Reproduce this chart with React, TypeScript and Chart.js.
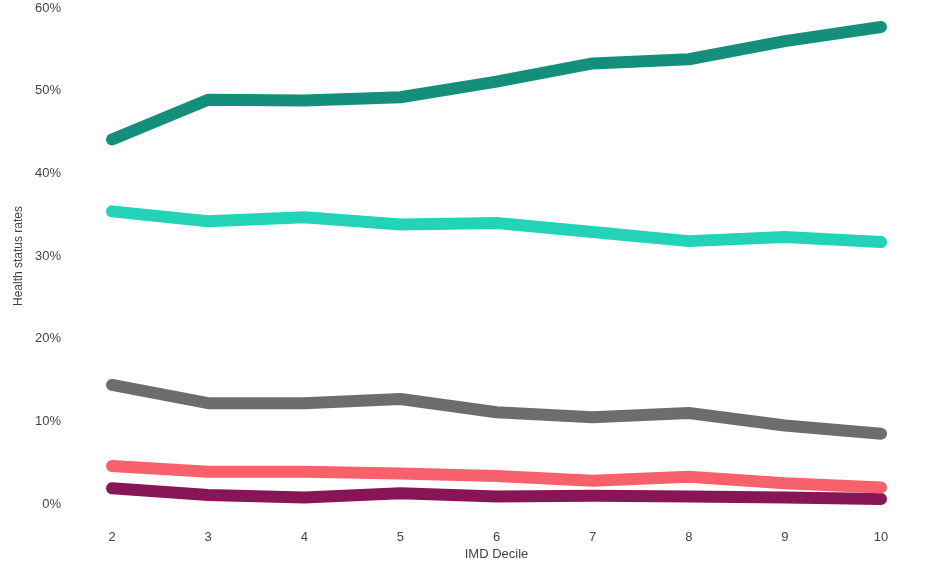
import React, { useEffect, useRef } from "react";
import { Chart, registerables } from "chart.js";

Chart.register(...registerables);

const deciles = ["2", "3", "4", "5", "6", "7", "8", "9", "10"];
const yTickValues = [0, 10, 20, 30, 40, 50, 60];

const seriesDarkGreen = [44.1, 48.9, 48.8, 49.2, 51.1, 53.3, 53.8, 56.0, 57.7];
const seriesTurquoise = [35.4, 34.2, 34.7, 33.8, 34.0, 32.9, 31.8, 32.3, 31.7];
const seriesGrey = [14.4, 12.2, 12.2, 12.7, 11.1, 10.5, 11.0, 9.5, 8.5];
const seriesCoral = [4.6, 3.9, 3.9, 3.7, 3.4, 2.8, 3.3, 2.5, 2.0];
const seriesPurple = [1.9, 1.1, 0.8, 1.3, 0.9, 1.0, 0.9, 0.8, 0.6];

const colours = ["#148f7c", "#23d3b8", "#6d6d6d", "#f6616b", "#881656"];

export default function App() {
  const ref = useRef<HTMLCanvasElement | null>(null);

  useEffect(() => {
    document.body.style.margin = "0";
    const canvas = ref.current;
    if (!canvas) return;
    const series = [seriesDarkGreen, seriesTurquoise, seriesGrey, seriesCoral, seriesPurple];
    const chart = new Chart(canvas, {
      type: "line",
      data: {
        labels: deciles,
        datasets: series.map((s, i) => ({
          data: s,
          borderColor: colours[i],
          backgroundColor: colours[i],
          borderWidth: 12,
          borderCapStyle: "round",
          borderJoinStyle: "round",
          pointRadius: 0,
          pointHoverRadius: 0,
          tension: 0,
          fill: false,
          clip: false,
        })) as any,
      },
      options: {
        animation: false,
        responsive: false,
        maintainAspectRatio: false,
        events: [],
        layout: { padding: { top: 8, right: 48, left: 0, bottom: 0 } },
        plugins: { legend: { display: false }, tooltip: { enabled: false } },
        scales: {
          x: {
            type: "category",
            offset: false,
            grid: { display: false, drawTicks: false },
            border: { display: false },
            ticks: {
              font: { family: "'Liberation Sans', Arial, sans-serif", size: 13 },
              color: "#444444",
              padding: 26,
              maxRotation: 0,
            },
            title: {
              display: true,
              text: "IMD Decile",
              font: { family: "'Liberation Sans', Arial, sans-serif", size: 13 },
              color: "#444444",
              padding: { top: 0, bottom: 6 },
            },
            afterFit: (scale: any) => {
              scale.height = 64;
            },
          },
          y: {
            min: 0,
            max: 60,
            afterBuildTicks: (scale: any) => {
              scale.ticks = yTickValues.map((v) => ({ value: v }));
            },
            grid: { display: false, drawTicks: false },
            border: { display: false },
            ticks: {
              font: { family: "'Liberation Sans', Arial, sans-serif", size: 13 },
              color: "#444444",
              padding: 51,
              callback: (v: any) => `${v}%`,
            },
            title: {
              display: true,
              text: "Health status rates",
              font: { family: "'Liberation Sans', Arial, sans-serif", size: 12 },
              color: "#444444",
              padding: { top: 11, bottom: 4 },
            },
            afterFit: (scale: any) => {
              scale.width = 112;
              scale.paddingTop = 0;
              scale.paddingBottom = 0;
            },
          },
        },
      },
    });
    return () => chart.destroy();
  }, []);

  return (
    <div style={{ width: 929, height: 568, position: "relative" }}>
      <canvas ref={ref} width={929} height={568} style={{ width: 929, height: 568, display: "block" }} />
    </div>
  );
}
